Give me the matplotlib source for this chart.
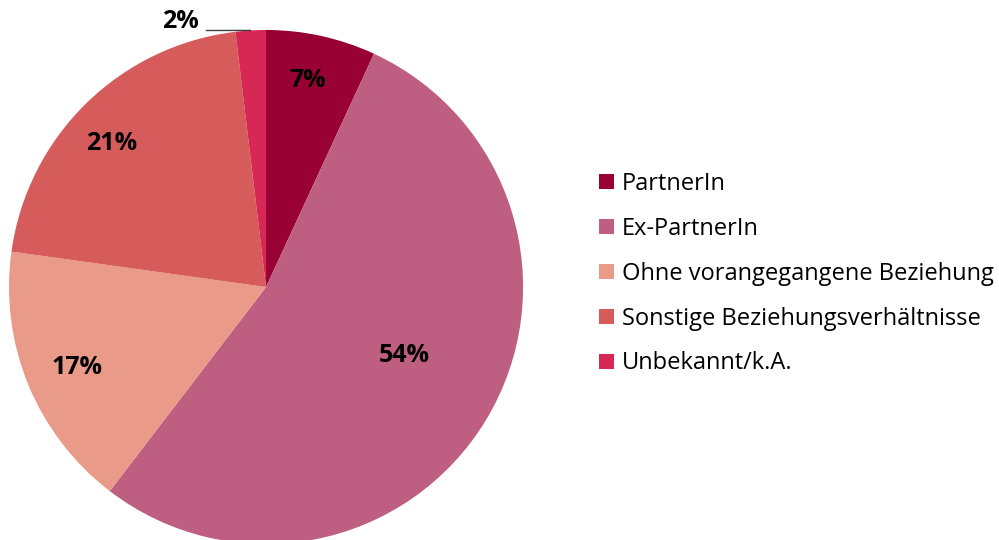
import numpy as np
import matplotlib
matplotlib.use("Agg")
from matplotlib import pyplot as plt
from matplotlib.patches import Patch

plt.rcParams['font.family'] = ['Open Sans', 'DejaVu Sans']

categories = ["PartnerIn", "Ex-PartnerIn", "Ohne vorangegangene Beziehung",
              "Sonstige Beziehungsverhältnisse", "Unbekannt/k.A."]
values = [6.9, 53.5, 16.8, 20.9, 1.9]
pct_labels = ["7%", "54%", "17%", "21%", "2%"]
colors = ["#990033", "#BE5E80", "#E99A88", "#D65B5B", "#D72754"]
# label placement: distance from centre and angular shift (deg) off the wedge middle
label_radius = [0.82, 0.60, 0.80, 0.82, None]
label_shift = [1.0, 4.6, 0.8, 2.6, 0.0]

fig = plt.figure(figsize=(9.99, 5.4), dpi=100)
# pie centred at roughly (266, 287) px, radius ~257 px
ax = fig.add_axes([0.2663 - 0.2573, 0.4685 - 0.476, 0.5146, 0.952])
wedges, _ = ax.pie(values, colors=colors, startangle=90, counterclock=False,
                   wedgeprops=dict(linewidth=0))
ax.set_xlim(-1, 1)
ax.set_ylim(-1, 1)
ax.set_aspect('equal')
ax.axis('off')

for w, lab, r, sh in zip(wedges, pct_labels, label_radius, label_shift):
    mid = np.deg2rad((w.theta1 + w.theta2) / 2 + sh)
    if r is not None:
        ax.text(r * np.cos(mid), r * np.sin(mid), lab, ha='center', va='center',
                fontsize=18, fontweight='bold', color='black')
    else:
        # small slice: label outside with a leader line
        ex, ey = np.cos(mid), np.sin(mid)
        ax.annotate(lab, xy=(ex, ey), xytext=(ex - 0.2, ey - 0.014),
                    ha='right', va='bottom', fontsize=18, fontweight='bold',
                    annotation_clip=False,
                    arrowprops=dict(arrowstyle='-', color='#404040', lw=1,
                                    relpos=(1, 0.14), shrinkA=3, shrinkB=0))

handles = [Patch(facecolor=c, edgecolor='none') for c in colors]
fig.legend(handles, categories, loc='center left', bbox_to_anchor=(0.6, 0.493),
           frameon=False, fontsize=17, handlelength=0.6, handleheight=0.6,
           handletextpad=0.35, labelspacing=0.88, borderpad=0, borderaxespad=0)

plt.savefig('out.png', dpi=100)
